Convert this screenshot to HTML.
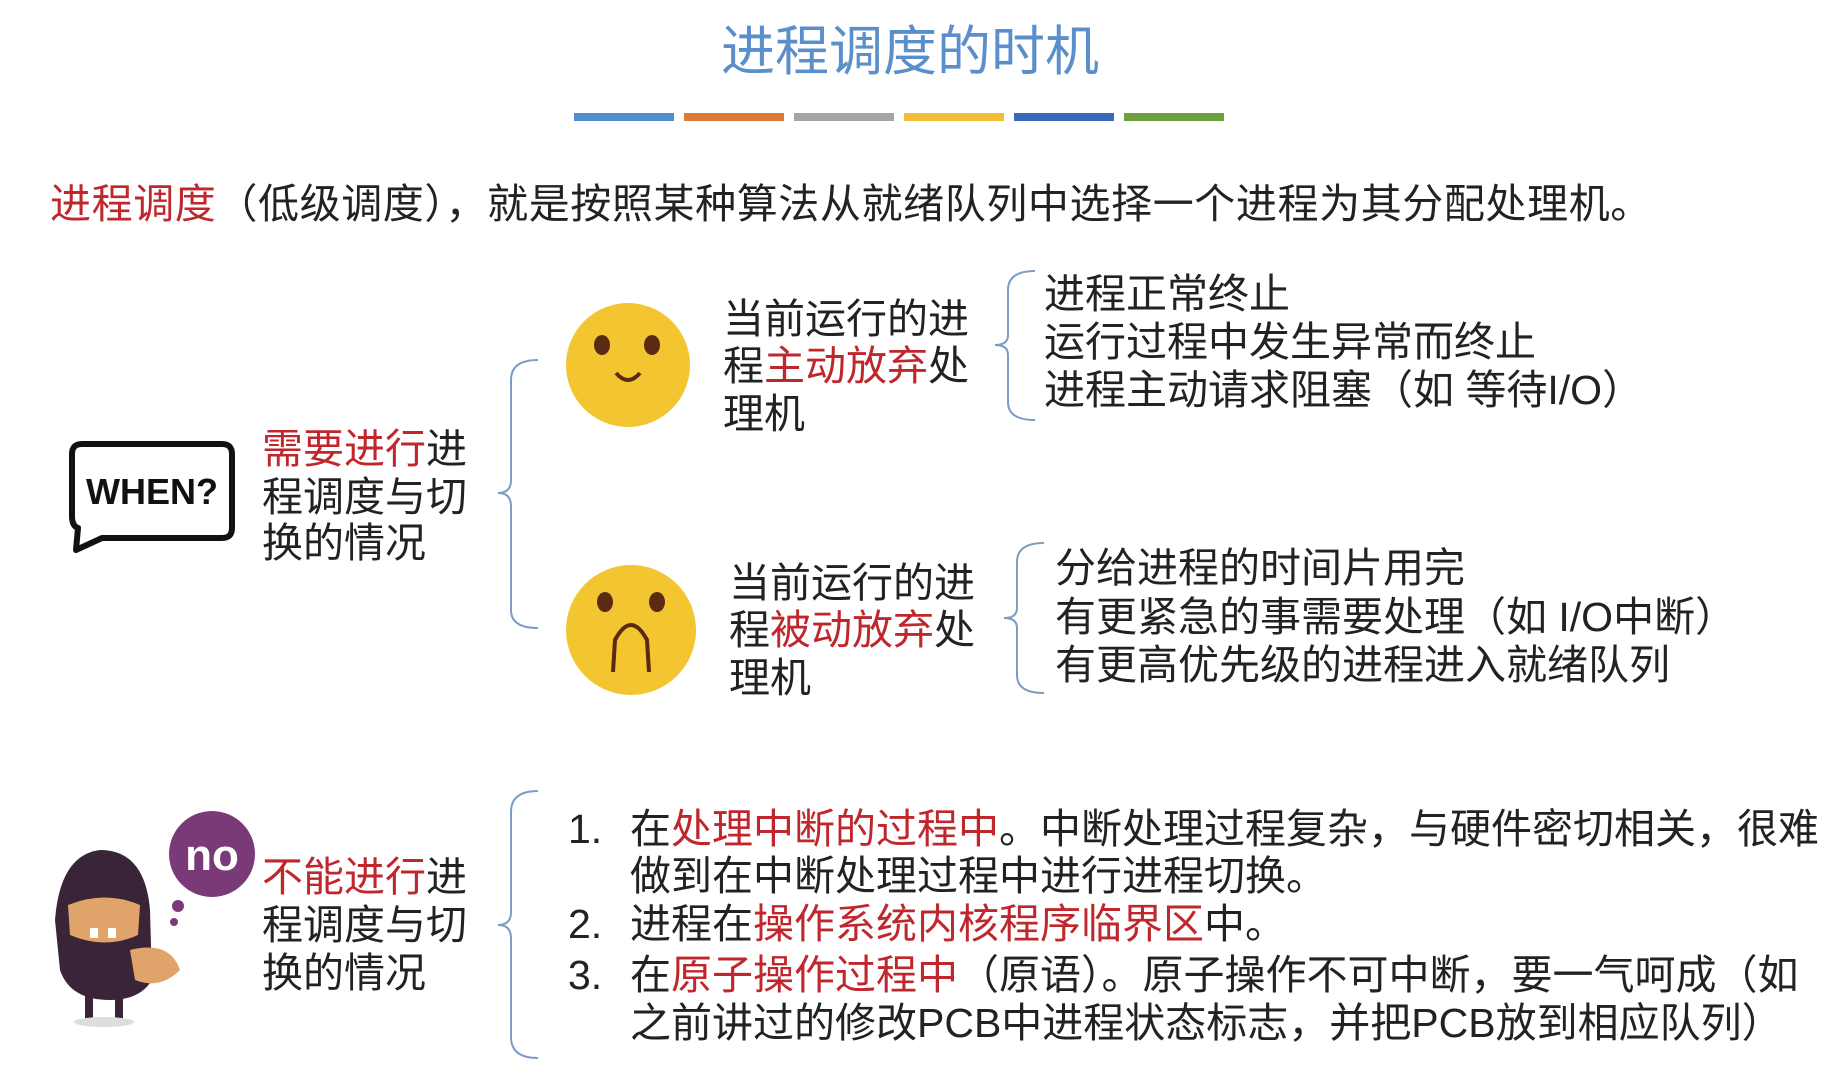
<!DOCTYPE html>
<html><head><meta charset="utf-8"><style>
body{margin:0;width:1843px;height:1080px;background:#fff;position:relative;overflow:hidden;font-family:"Liberation Sans","Noto Sans CJK SC",sans-serif;color:#222}
.t{position:absolute;white-space:nowrap;font-size:41px;line-height:48px}
.r{color:#c0272d}
.bar{position:absolute;top:113px;height:8px;width:100px}
</style></head><body>
<div class="t" style="left:0;width:1820px;text-align:center;top:22px;font-size:54px;line-height:60px;color:#5b8fcb">进程调度的时机</div>
<div class="bar" style="left:574px;background:#4f8fd0"></div>
<div class="bar" style="left:684px;background:#e07a3a"></div>
<div class="bar" style="left:794px;background:#a5a5a5"></div>
<div class="bar" style="left:904px;background:#f3bd3a"></div>
<div class="bar" style="left:1014px;background:#3a68b8"></div>
<div class="bar" style="left:1124px;background:#6f9f3c"></div>

<div class="t" style="left:50px;top:180px;letter-spacing:0.6px"><span class="r">进程调度</span>（低级调度），就是按照某种算法从就绪队列中选择一个进程为其分配处理机。</div>

<svg width="1843" height="1080" style="position:absolute;left:0;top:0" fill="none" stroke="#7d9cc4" stroke-width="2">
<path d="M538 360 Q511 360 511 380 L511 480 Q511 493 498 493 Q511 493 511 506 L511 610 Q511 628 538 628"/>
<path d="M1035 271 Q1008 271 1008 290 L1008 335 Q1008 345 995 345 Q1008 345 1008 355 L1008 402 Q1008 420 1035 420"/>
<path d="M1044 543 Q1017 543 1017 562 L1017 608 Q1017 618 1004 618 Q1017 618 1017 628 L1017 675 Q1017 693 1044 693"/>
<path d="M538 791 Q511 791 511 812 L511 912 Q511 925 498 925 Q511 925 511 938 L511 1037 Q511 1058 538 1058"/>
</svg>

<!-- WHEN bubble -->
<svg width="200" height="130" style="position:absolute;left:66px;top:436px">
<path d="M16 8 H156 Q166 8 166 18 V92 Q166 102 156 102 H36 L10 114 L12 92 Q6 90 6 80 V18 Q6 8 16 8Z" fill="#fff" stroke="#111" stroke-width="6" stroke-linejoin="round"/>
<text x="86" y="68" text-anchor="middle" font-family="Liberation Sans,sans-serif" font-weight="bold" font-size="36" fill="#111">WHEN?</text>
</svg>
<div class="t" style="left:262px;top:425px"><span class="r">需要进行</span>进</div>
<div class="t" style="left:262px;top:473px">程调度与切</div>
<div class="t" style="left:262px;top:519px">换的情况</div>

<!-- smiley 1 -->
<svg width="140" height="140" style="position:absolute;left:558px;top:295px">
<circle cx="70" cy="70" r="62" fill="#f2c531"/>
<ellipse cx="44" cy="50" rx="8" ry="10" fill="#5a2a12"/>
<ellipse cx="94" cy="50" rx="8" ry="10" fill="#5a2a12"/>
<path d="M58 78 Q70 92 82 78" stroke="#5a2a12" stroke-width="4" fill="none"/>
</svg>
<div class="t" style="left:723px;top:295px">当前运行的进</div>
<div class="t" style="left:723px;top:342px">程<span class="r">主动放弃</span>处</div>
<div class="t" style="left:723px;top:390px">理机</div>
<div class="t" style="left:1044px;top:270px">进程正常终止</div>
<div class="t" style="left:1044px;top:318px">运行过程中发生异常而终止</div>
<div class="t" style="left:1044px;top:366px">进程主动请求阻塞（如 等待I/O）</div>

<!-- smiley 2 -->
<svg width="140" height="140" style="position:absolute;left:561px;top:560px">
<circle cx="70" cy="70" r="65" fill="#f2c531"/>
<ellipse cx="44" cy="42" rx="8" ry="10" fill="#5a2a12"/>
<ellipse cx="96" cy="42" rx="8" ry="10" fill="#5a2a12"/>
<path d="M52 112 L54 80 Q70 50 86 80 L88 112" stroke="#5a2a12" stroke-width="4" fill="none"/>
</svg>
<div class="t" style="left:729px;top:559px">当前运行的进</div>
<div class="t" style="left:729px;top:606px">程<span class="r">被动放弃</span>处</div>
<div class="t" style="left:729px;top:654px">理机</div>
<div class="t" style="left:1055px;top:544px">分给进程的时间片用完</div>
<div class="t" style="left:1055px;top:593px">有更紧急的事需要处理（如 I/O中断）</div>
<div class="t" style="left:1055px;top:641px">有更高优先级的进程进入就绪队列</div>

<!-- ninja -->
<svg width="230" height="220" style="position:absolute;left:40px;top:810px">
<circle cx="172" cy="44" r="43" fill="#7a3a78"/>
<text x="172" y="60" text-anchor="middle" font-family="Liberation Sans,sans-serif" font-weight="bold" font-size="44" fill="#fff">no</text>
<circle cx="138" cy="96" r="6" fill="#7a3a78"/><circle cx="134" cy="112" r="4" fill="#7a3a78"/>
<path d="M60 40 Q105 40 110 100 L112 170 Q100 190 70 190 Q30 190 20 160 L15 110 Q20 45 60 40Z" fill="#3a2438"/>
<path d="M28 95 Q65 80 100 95 L98 125 Q65 140 30 125Z" fill="#e0a46a"/>
<rect x="50" y="118" width="8" height="10" fill="#fff"/><rect x="68" y="118" width="8" height="10" fill="#fff"/>
<path d="M90 140 Q130 130 140 160 Q120 180 95 170Z" fill="#e0a46a"/>
<rect x="45" y="185" width="8" height="25" fill="#3a2438"/><rect x="75" y="185" width="8" height="25" fill="#3a2438"/>
<ellipse cx="64" cy="212" rx="30" ry="5" fill="#ddd"/>
</svg>
<div class="t" style="left:262px;top:853px"><span class="r">不能进行</span>进</div>
<div class="t" style="left:262px;top:901px">程调度与切</div>
<div class="t" style="left:262px;top:949px">换的情况</div>

<div class="t" style="left:568px;top:805px">1.</div>
<div class="t" style="left:630px;top:805px">在<span class="r">处理中断的过程中</span>。中断处理过程复杂，与硬件密切相关，很难</div>
<div class="t" style="left:630px;top:852px">做到在中断处理过程中进行进程切换。</div>
<div class="t" style="left:568px;top:900px">2.</div>
<div class="t" style="left:630px;top:900px">进程在<span class="r">操作系统内核程序临界区</span>中。</div>
<div class="t" style="left:568px;top:951px">3.</div>
<div class="t" style="left:630px;top:951px">在<span class="r">原子操作过程中</span>（原语）。原子操作不可中断，要一气呵成（如</div>
<div class="t" style="left:630px;top:999px">之前讲过的修改PCB中进程状态标志，并把PCB放到相应队列）</div>
</body></html>
